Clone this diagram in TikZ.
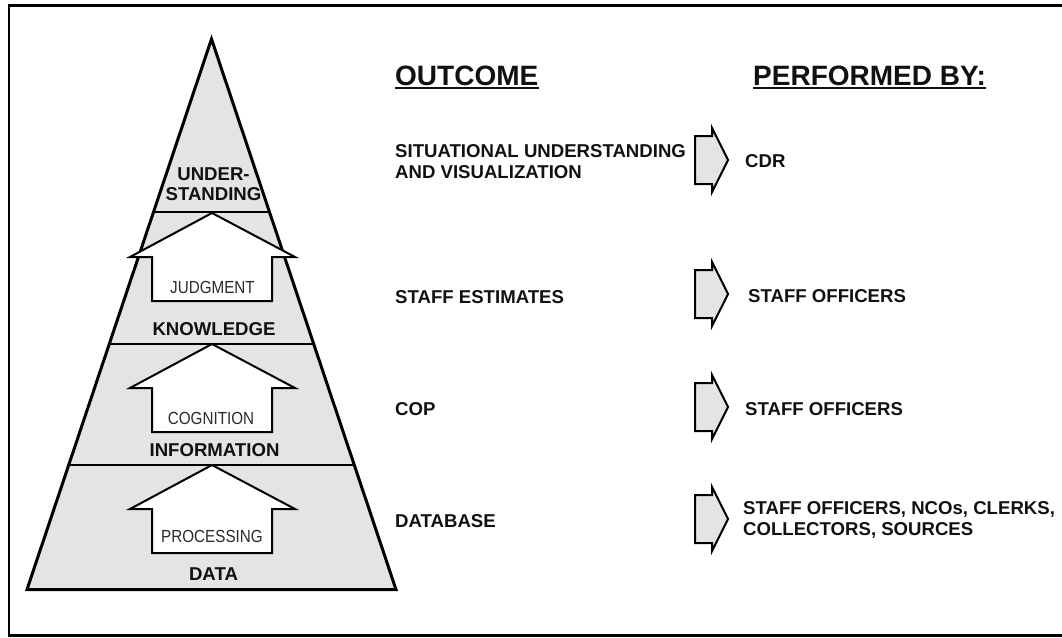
\documentclass[tikz,border=0pt]{standalone}
\usepackage{fontspec}
\setmainfont{Liberation Sans}
\newfontfamily\narrowfont[FakeStretch=0.87]{Liberation Sans}
\definecolor{ink}{HTML}{111111}
\definecolor{ink2}{HTML}{2A2A2A}
\definecolor{pyrgray}{HTML}{E4E4E4}
\begin{document}
\begin{tikzpicture}[x=1pt,y=-1pt,
  lbl/.style={font=\bfseries\fontsize{18.6}{21}\selectfont, inner sep=0pt, text=ink},
  lblc/.style={lbl, anchor=base},
  lbll/.style={lbl, anchor=base west},
  headl/.style={font=\bfseries\fontsize{28}{32}\selectfont, inner sep=0pt, text=ink, anchor=base west},
  proc/.style={font=\narrowfont\fontsize{17.5}{20}\selectfont, inner sep=0pt, text=ink2, anchor=base},
  sepline/.style={line width=2pt, black},
  outline/.style={line width=3pt, black, line join=miter},
  ulin/.style={line width=2.2pt, ink},
  frameline/.style={line width=2.5pt, black},
  uparrow/.pic={\draw[line width=2pt, fill=white, line join=miter]
      (0,0) -- (83,44) -- (60,44) -- (60,88) -- (-60,88) -- (-60,44) -- (-82,44) -- cycle;},
  rarrow/.pic={\draw[line width=2pt, fill=pyrgray, line join=miter]
      (0,-24) -- (17,-24) -- (17,-32) -- (33,0) -- (17,32) -- (17,24) -- (0,24) -- cycle;}
]
\useasboundingbox (0,0) rectangle (1062,637);

% frame (right side lies outside the picture)
\draw[frameline] (1075,5.5) -- (9,5.5) -- (9,635.5) -- (1075,635.5);

% pyramid
\coordinate (apex) at (211.5,39);
\coordinate (bl) at (27,589.5);
\coordinate (br) at (396,589.5);
\fill[pyrgray] (apex) -- (br) -- (bl) -- cycle;
\begin{scope}
  \clip (apex) -- (br) -- (bl) -- cycle;
  \draw[sepline] (0,212) -- (420,212);
  \draw[sepline] (0,343.5) -- (420,343.5);
  \draw[sepline] (0,465) -- (420,465);
\end{scope}
\draw[outline] (apex) -- (br) -- (bl) -- cycle;

% up arrows
\pic at (212,213) {uparrow};
\pic at (212,344) {uparrow};
\pic at (212,465) {uparrow};

% pyramid labels
\node[lblc] (under) at (213.5,180) {\begin{tabular}[t]{@{}c@{}}UNDER-\\[-1pt]STANDING\end{tabular}};
\node[proc] (judg) at (212.5,293) {JUDGMENT};
\node[lblc] (know) at (214,335) {KNOWLEDGE};
\node[proc] (cogn) at (211,424) {COGNITION};
\node[lblc] (info) at (214.5,456) {INFORMATION};
\node[proc] (proc) at (212,542) {PROCESSING};
\node[lblc] (data) at (213.5,580) {DATA};

% headings
\node[headl] (outcome) at (395,85) {OUTCOME};
\draw[ulin] ([yshift=-3pt]outcome.base west) -- ([yshift=-3pt]outcome.base east);
\node[headl] (perf) at (753,85) {PERFORMED BY:};
\draw[ulin] ([yshift=-3pt]perf.base west) -- ([yshift=-3pt]perf.base east);

% outcomes
\node[lbll] (o1) at (395,157) {\begin{tabular}[t]{@{}l@{}}SITUATIONAL UNDERSTANDING\\AND VISUALIZATION\end{tabular}};
\node[lbll] (o2) at (395,303) {STAFF ESTIMATES};
\node[lbll] (o3) at (395,415) {COP};
\node[lbll] (o4) at (395,527) {DATABASE};

% right arrows
\pic at (695,160) {rarrow};
\pic at (695,294) {rarrow};
\pic at (695,407) {rarrow};
\pic at (695,519) {rarrow};

% performers
\node[lbll] (p1) at (745,167) {CDR};
\node[lbll] (p2) at (748,302) {STAFF OFFICERS};
\node[lbll] (p3) at (745,415) {STAFF OFFICERS};
\node[lbll] (p4) at (743,514) {\begin{tabular}[t]{@{}l@{}}STAFF OFFICERS, NCOs, CLERKS,\\COLLECTORS, SOURCES\end{tabular}};
\end{tikzpicture}
\end{document}
